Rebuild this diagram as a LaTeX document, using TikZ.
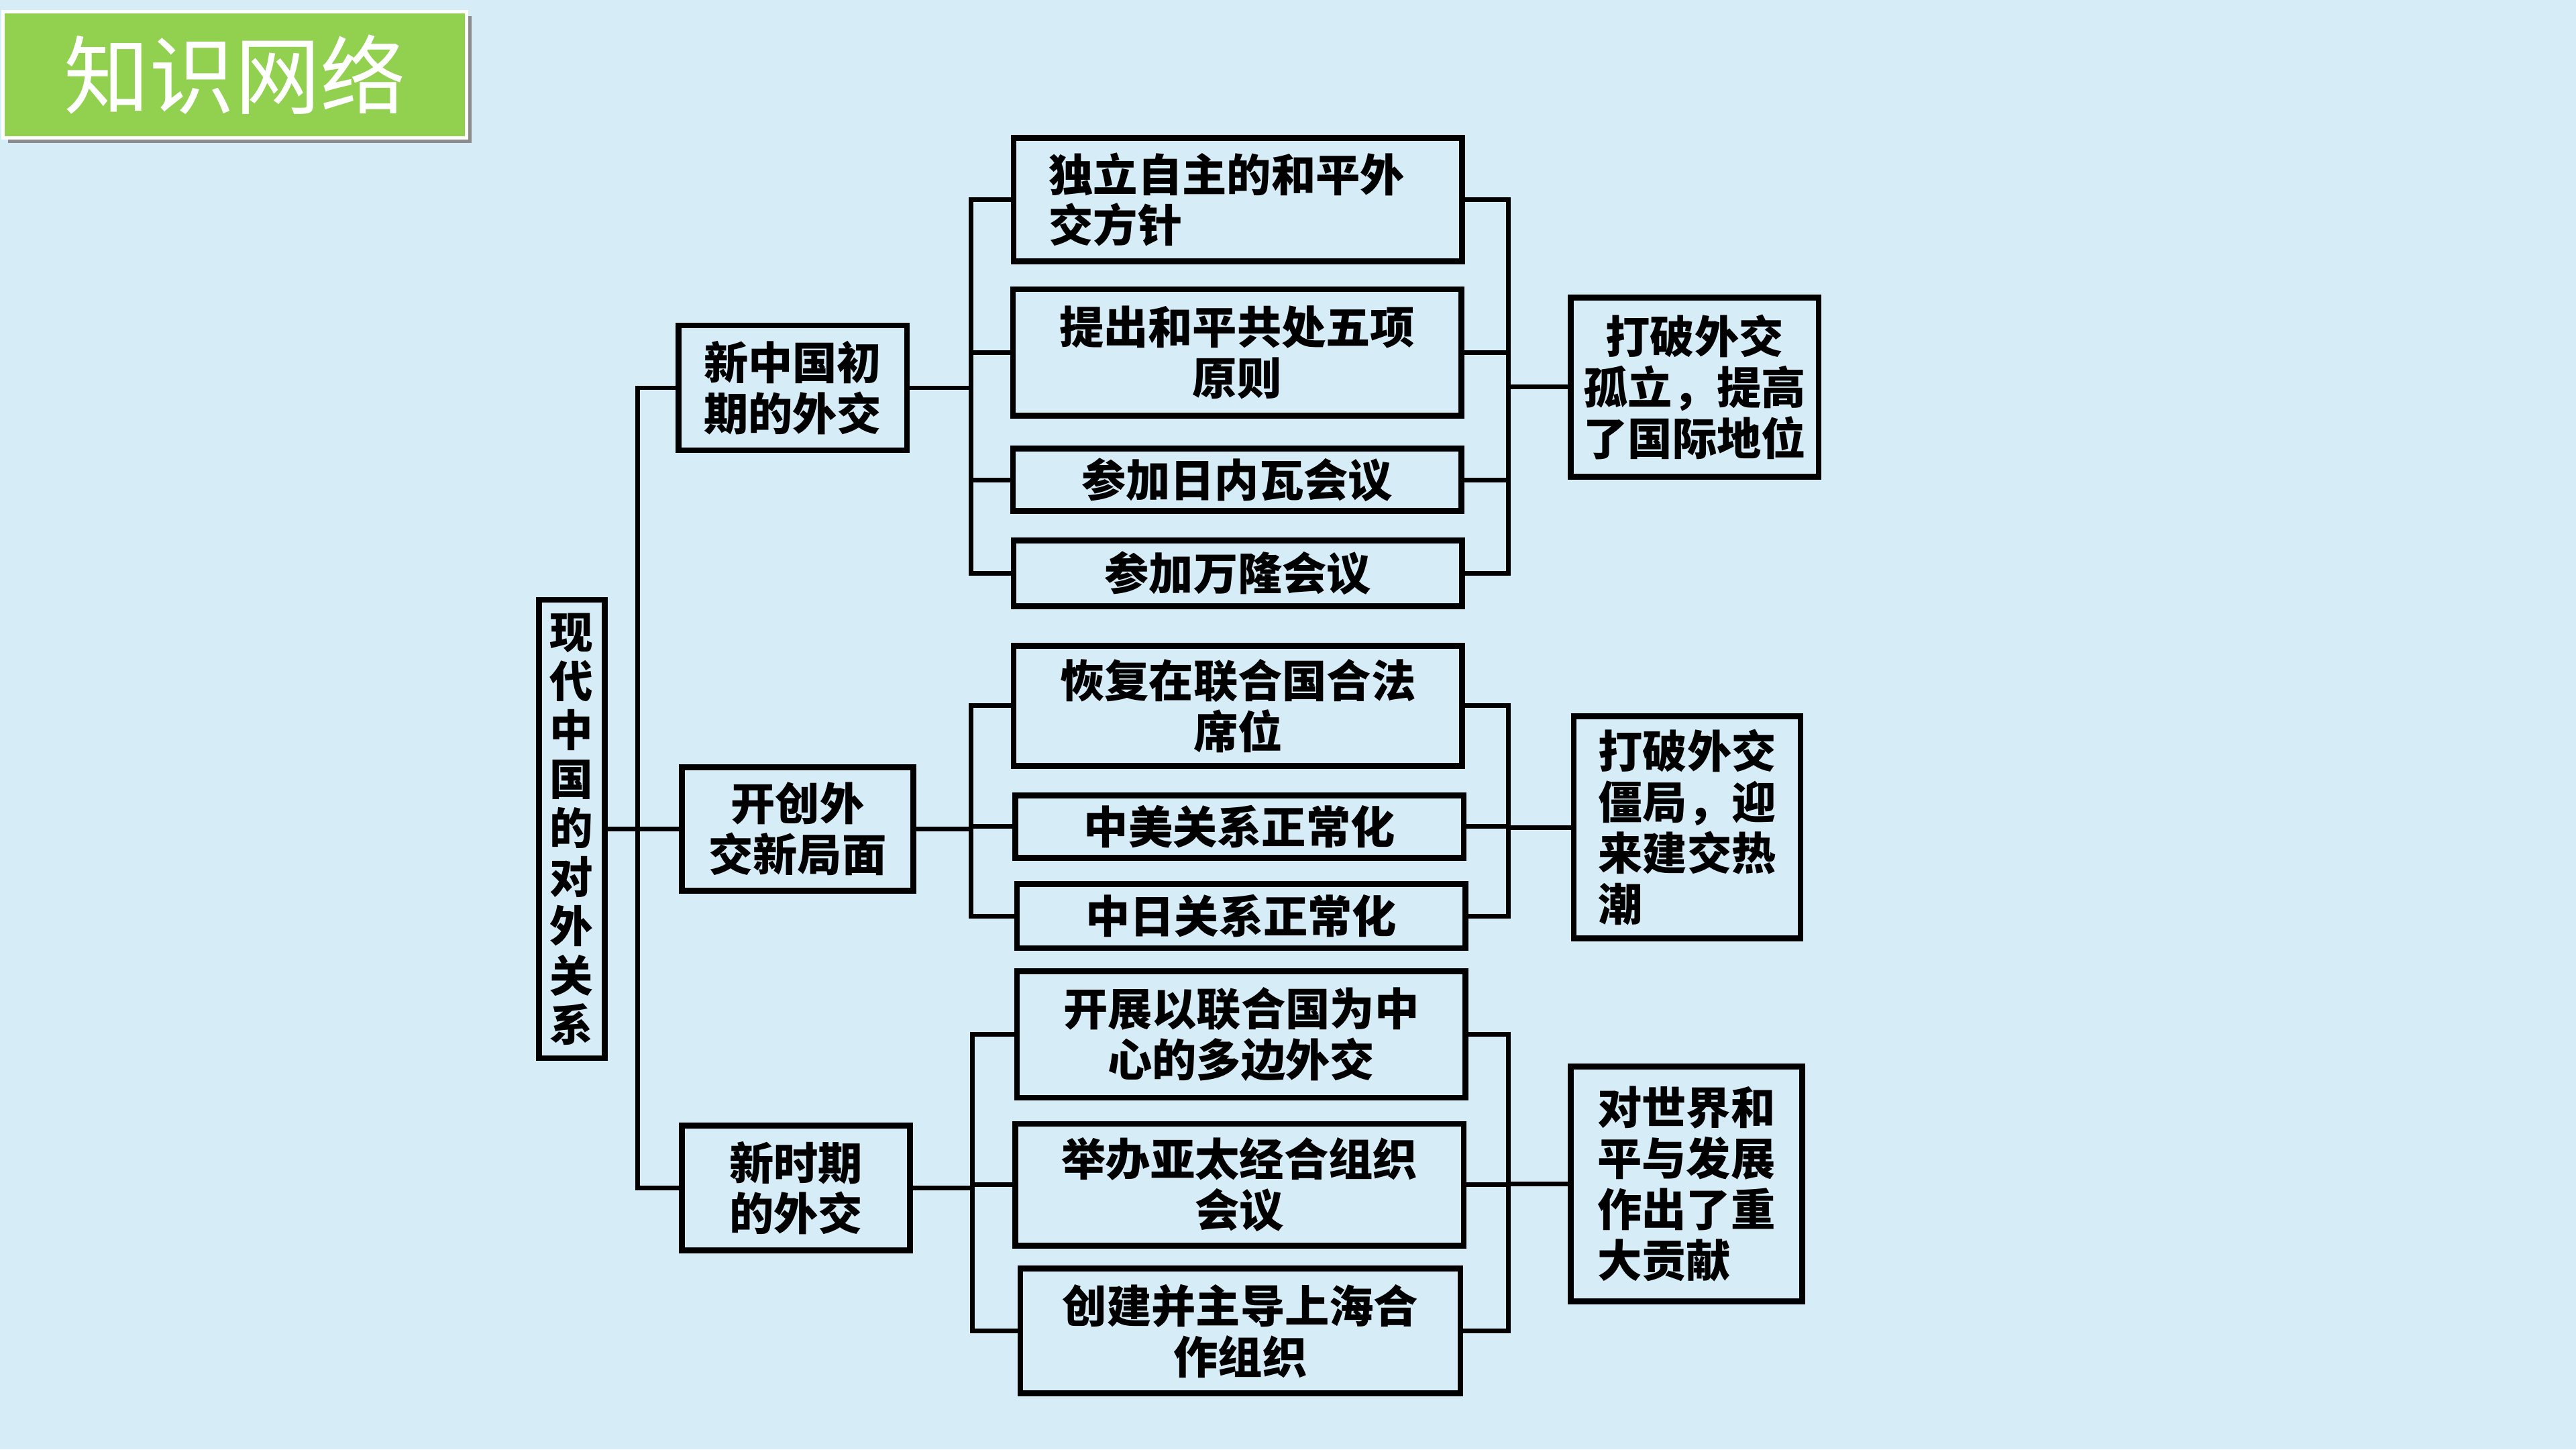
\documentclass[tikz,border=0pt]{standalone}
\usepackage{fontspec}
\setmainfont{Noto Sans CJK SC}
\usetikzlibrary{calc}
\definecolor{bgblue}{RGB}{214,236,246}
\definecolor{titlegreen}{RGB}{146,208,80}

\begin{document}
\begin{tikzpicture}[
    box/.style={draw,line width=1pt,inner sep=0pt,align=center,
      font=\fontsize{7.7}{8.8}\selectfont\bfseries},
    item/.style={box,minimum width=2.73cm},
    link/.style={line width=0.8pt}]
  % background
  \fill[bgblue] (0,0) rectangle (15.68,8.82);
  % title
  \fill[black!45] (0.05,7.95) rectangle (2.87,8.72);
  \node[fill=titlegreen,draw=white,line width=0.6pt,minimum width=2.82cm,
    minimum height=0.77cm,text=white,font=\fontsize{14.8}{16}\selectfont]
    (title) at (1.43,8.365) {知识网络};
  % root and second level
  \node[box,minimum width=0.40cm,minimum height=2.79cm,
    font=\fontsize{7.5}{8.5}\selectfont\bfseries]
    (root) at (3.48,3.775) {现\\代\\中\\国\\的\\对\\外\\关\\系};
  \node[box,minimum width=1.39cm,minimum height=0.76cm] (early) at (4.825,6.46) {新中国初\\期的外交};
  \node[box,minimum width=1.41cm,minimum height=0.75cm] (open) at (4.855,3.775) {开创外\\交新局面};
  \node[box,minimum width=1.39cm,minimum height=0.76cm] (newera) at (4.845,1.59) {新时期\\的外交};
  % third level
  \node[item,minimum height=0.75cm,text width=2.3cm,align=left] (a1) at (7.535,7.605) {独立自主的和平外\\交方针};
  \node[item,minimum height=0.77cm] (a2) at (7.53,6.675) {提出和平共处五项\\原则};
  \node[item,minimum height=0.38cm] (a3) at (7.53,5.90) {参加日内瓦会议};
  \node[item,minimum height=0.40cm] (a4) at (7.535,5.33) {参加万隆会议};
  \node[item,minimum height=0.73cm] (b1) at (7.535,4.525) {恢复在联合国合法\\席位};
  \node[item,minimum height=0.38cm] (b2) at (7.545,3.79) {中美关系正常化};
  \node[item,minimum height=0.39cm] (b3) at (7.555,3.245) {中日关系正常化};
  \node[item,minimum height=0.77cm] (c1) at (7.555,2.525) {开展以联合国为中\\心的多边外交};
  \node[item,minimum height=0.74cm] (c2) at (7.545,1.61) {举办亚太经合组织\\会议};
  \node[item,minimum height=0.76cm,minimum width=2.68cm] (c3) at (7.55,0.72) {创建并主导上海合\\作组织};
  % results
  \node[box,minimum width=1.51cm,minimum height=1.09cm] (r1) at (10.315,6.465) {打破外交\\孤立，提高\\了国际地位};
  \node[box,minimum width=1.38cm,minimum height=1.35cm,align=left] (r2) at (10.27,3.785) {打破外交\\僵局，迎\\来建交热\\潮};
  \node[box,minimum width=1.41cm,minimum height=1.43cm,align=left] (r3) at (10.265,1.615) {对世界和\\平与发展\\作出了重\\大贡献};
  % junctions
  \coordinate (j0) at (3.88,3.775);
  \coordinate (jl1) at (5.91,6.46);
  \coordinate (jl2) at (5.91,3.775);
  \coordinate (jl3) at (5.92,1.59);
  \coordinate (jr1) at (9.18,6.465);
  \coordinate (jr2) at (9.18,3.785);
  \coordinate (jr3) at (9.18,1.615);
  % connectors
  \draw[link] (root.east) -- (open.west);
  \draw[link] (j0) |- (early.west);
  \draw[link] (j0) |- (newera.west);
  \draw[link] (early.east) -- (jl1);
  \draw[link] (open.east) -- (jl2);
  \draw[link] (newera.east) -- (jl3);
  \foreach \i in {a1,a2,a3,a4} {
    \draw[link] (jl1) |- (\i.west);
    \draw[link] (\i.east) -| (jr1);
  }
  \foreach \i in {b1,b2,b3} {
    \draw[link] (jl2) |- (\i.west);
    \draw[link] (\i.east) -| (jr2);
  }
  \foreach \i in {c1,c2,c3} {
    \draw[link] (jl3) |- (\i.west);
    \draw[link] (\i.east) -| (jr3);
  }
  \draw[link] (jr1) -- (r1.west);
  \draw[link] (jr2) -- (r2.west);
  \draw[link] (jr3) -- (r3.west);
\end{tikzpicture}
\end{document}
